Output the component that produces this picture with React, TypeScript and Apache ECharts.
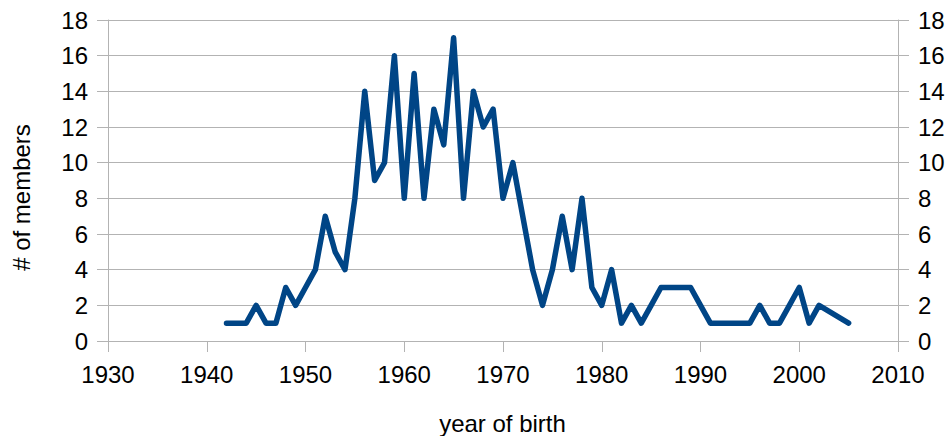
import React, { useEffect, useRef } from "react";
import * as echarts from "echarts";

const years: number[] = [
  1942, 1943, 1944, 1945, 1946, 1947, 1948, 1949, 1950, 1951,
  1952, 1953, 1954, 1955, 1956, 1957, 1958, 1959, 1960, 1961,
  1962, 1963, 1964, 1965, 1966, 1967, 1968, 1969, 1970, 1971,
  1972, 1973, 1974, 1975, 1976, 1977, 1978, 1979, 1980, 1981,
  1982, 1983, 1984, 1985, 1986, 1987, 1988, 1989, 1990, 1991,
  1992, 1993, 1994, 1995, 1996, 1997, 1998, 1999, 2000, 2001,
  2002, 2003, 2004, 2005,
];

const members: (number | null)[] = [
  1, 1, 1, 2, 1, 1, 3, 2, 3, 4,
  7, 5, 4, 8, 14, 9, 10, 16, 8, 15,
  8, 13, 11, 17, 8, 14, 12, 13, 8, 10,
  7, 4, 2, 4, 7, 4, 8, 3, 2, 4,
  1, 2, 1, 2, 3, 3, 3, 3, 2, 1,
  1, 1, 1, 1, 2, 1, 1, 2, 3, 1,
  2, null, null, 1,
];

const xAxisTitle = "year of birth";
const yAxisTitle = "# of members";

export default function App() {
  const ref = useRef<HTMLDivElement>(null);
  useEffect(() => {
    document.body.style.margin = "0";
    if (!ref.current) return;
    const chart = echarts.init(ref.current, undefined, { renderer: "svg" });
    const font = "Liberation Sans";
    const gray = "#b3b3b3";
    const yAxisCommon = {
      type: "value" as const,
      min: 0,
      max: 18,
      interval: 2,
      axisLine: { show: true, lineStyle: { color: gray, width: 1 } },
      axisTick: { show: true, length: 11, lineStyle: { color: gray, width: 1 } },
      axisLabel: { color: "#000", fontFamily: font, fontSize: 24, margin: 20 },
    };
    chart.setOption({
      animation: false,
      backgroundColor: "#fff",
      grid: { left: 108, right: 50, top: 20, bottom: 95, containLabel: false },
      xAxis: {
        type: "value",
        min: 1930,
        max: 2010,
        interval: 10,
        axisLine: { show: true, onZero: false, lineStyle: { color: gray, width: 1 } },
        axisTick: { show: true, length: 11, lineStyle: { color: gray, width: 1 } },
        splitLine: { show: false },
        axisLabel: {
          color: "#000",
          fontFamily: font,
          fontSize: 24,
          margin: 21,
          formatter: (v: number) => String(v),
        },
      },
      yAxis: [
        {
          ...yAxisCommon,
          position: "left",
          splitLine: { show: true, lineStyle: { color: gray, width: 1 } },
        },
        {
          ...yAxisCommon,
          position: "right",
          splitLine: { show: false },
        },
      ],
      series: [
        {
          type: "line",
          data: years.map((y, i) => [y, members[i]]),
          connectNulls: true,
          showSymbol: false,
          symbol: "none",
          lineStyle: { color: "#004586", width: 5.5, join: "round", cap: "round" },
          itemStyle: { color: "#004586" },
        },
      ],
      graphic: [
        {
          type: "text",
          x: 502.5,
          y: 423,
          style: {
            text: xAxisTitle,
            font: `24px "${font}"`,
            fill: "#000",
            textAlign: "center",
            textVerticalAlign: "middle",
          },
        },
        {
          type: "text",
          x: 21,
          y: 197.5,
          rotation: Math.PI / 2,
          style: {
            text: yAxisTitle,
            font: `24px "${font}"`,
            fill: "#000",
            textAlign: "center",
            textVerticalAlign: "middle",
          },
        },
      ],
    });
    return () => chart.dispose();
  }, []);
  return (
    <div
      ref={ref}
      style={{ position: "fixed", left: 0, top: 0, width: 948, height: 436 }}
    />
  );
}
